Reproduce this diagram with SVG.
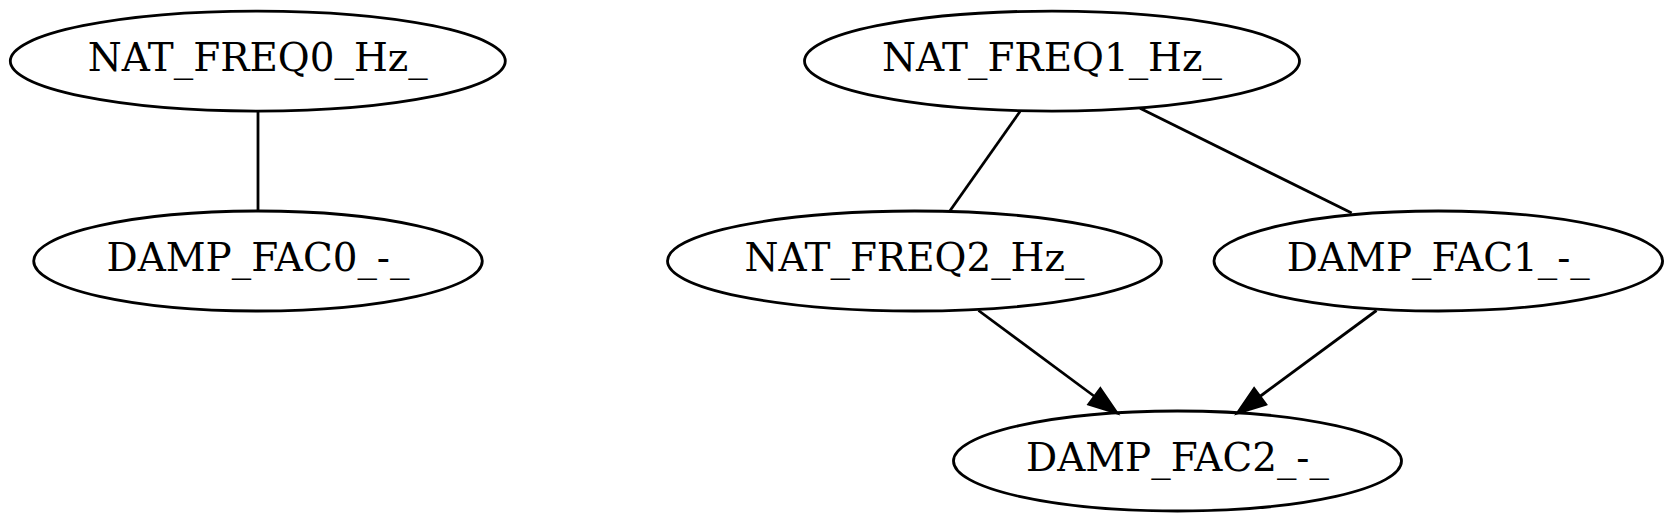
<svg xmlns="http://www.w3.org/2000/svg" width="1674" height="522" viewBox="0 0 1674 522">
<style>
.node ellipse{fill:none;stroke:#000;stroke-width:2.8}
.node text{font-family:"DejaVu Serif","Liberation Serif",serif;font-size:38.9px;text-anchor:middle;fill:#000}
.edge{fill:none;stroke:#000;stroke-width:2.8}
</style>
<defs>
<marker id="arrow" markerUnits="userSpaceOnUse" viewBox="-2 -12 36 24" markerWidth="36" markerHeight="24" refX="0" refY="0" orient="auto" overflow="visible">
<path d="M0,-9.7 L27.8,0 L0,9.7 Z" fill="#000" stroke="#000" stroke-width="2.8"/>
</marker>
</defs>
<rect width="1674" height="522" fill="#fff"/>
<g id="edges">
<path class="edge" d="M258,111 L258,211"/>
<path class="edge" d="M1020,111.5 L950,210.8"/>
<path class="edge" d="M1140,108.3 L1351.7,213"/>
<path class="edge" d="M978.5,310.5 L1094.6,396.5" marker-end="url(#arrow)"/>
<path class="edge" d="M1376.5,310.5 L1259.9,396.5" marker-end="url(#arrow)"/>
</g>
<g id="NAT_FREQ0_Hz_" class="node">
<ellipse cx="257.8" cy="61.1" rx="247.5" ry="50"/>
<text x="257.8" y="71.4">NAT_FREQ0_Hz_</text>
</g>
<g id="DAMP_FAC0_-_" class="node">
<ellipse cx="258" cy="261" rx="224.3" ry="50"/>
<text x="258" y="271.3">DAMP_FAC0_-_</text>
</g>
<g id="NAT_FREQ1_Hz_" class="node">
<ellipse cx="1052" cy="61.1" rx="247.5" ry="50"/>
<text x="1052" y="71.4">NAT_FREQ1_Hz_</text>
</g>
<g id="NAT_FREQ2_Hz_" class="node">
<ellipse cx="914.5" cy="261" rx="247" ry="50"/>
<text x="914.5" y="271.3">NAT_FREQ2_Hz_</text>
</g>
<g id="DAMP_FAC1_-_" class="node">
<ellipse cx="1438.3" cy="261" rx="224.3" ry="50"/>
<text x="1438.3" y="271.3">DAMP_FAC1_-_</text>
</g>
<g id="DAMP_FAC2_-_" class="node">
<ellipse cx="1177.5" cy="461" rx="224" ry="50"/>
<text x="1177.5" y="471.3">DAMP_FAC2_-_</text>
</g>
</svg>
